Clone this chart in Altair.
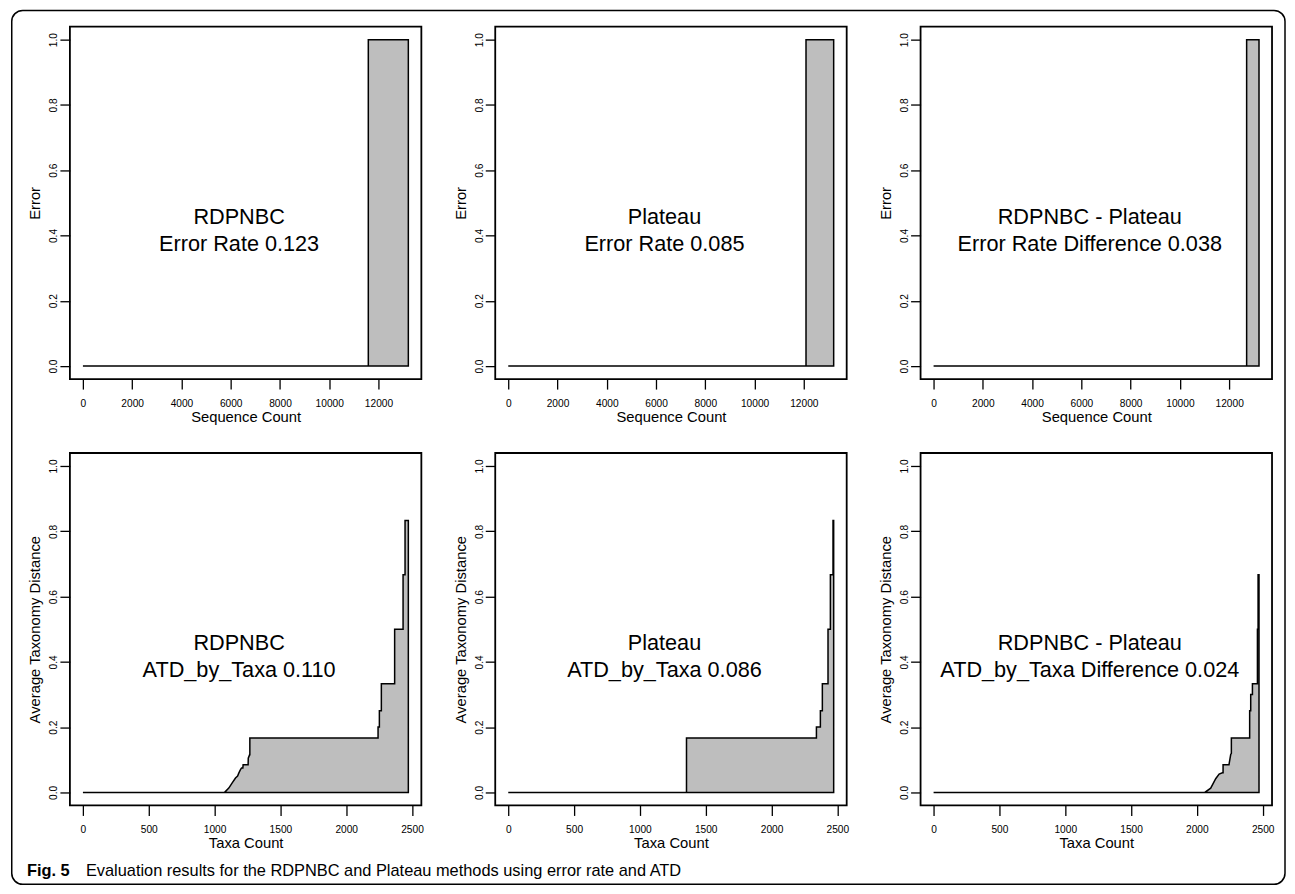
import altair as alt
import pandas as pd

# ---------------- data ----------------
N_SEQ = 13211      # total sequences
N_TAXA = 2472      # total taxa

# Top row: error by sequence (polygon vertices, x in sequence count)
top_rdp_x = [0, 11586, 11586, 13211, 13211]
top_rdp_y = [0, 0, 1, 1, 0]
top_pla_x = [0, 12088, 12088, 13211, 13211]
top_pla_y = [0, 0, 1, 1, 0]
top_dif_x = [0, 12709, 12709, 13211, 13211]
top_dif_y = [0, 0, 1, 1, 0]

# Bottom row: sorted average taxonomy distance by taxa
bot_rdp_x = [0, 1076, 1108, 1134, 1159, 1175, 1184, 1197, 1205, 1215, 1217, 1255, 1256, 1266,
             1268, 1268, 2242, 2242, 2252, 2252, 2267, 2267, 2368, 2368, 2432, 2432, 2447, 2447,
             2472, 2472]
bot_rdp_y = [0, 0, 0.013, 0.029, 0.044, 0.05, 0.059, 0.07, 0.075, 0.075, 0.085, 0.085, 0.105, 0.115,
             0.115, 0.167, 0.167, 0.2, 0.2, 0.25, 0.25, 0.333, 0.333, 0.5, 0.5, 0.667, 0.667, 0.833,
             0.833, 0]
bot_pla_x = [0, 1354, 1354, 2341, 2341, 2371, 2371, 2386, 2386, 2429, 2429, 2447, 2447, 2467, 2467,
             2472, 2472]
bot_pla_y = [0, 0, 0.167, 0.167, 0.2, 0.2, 0.25, 0.25, 0.333, 0.333, 0.5, 0.5, 0.667, 0.667, 0.833,
             0.833, 0]
bot_dif_x = [0, 2060, 2105, 2143, 2169, 2194, 2199, 2199, 2244, 2257, 2262, 2262, 2401, 2401, 2409,
             2409, 2422, 2422, 2460, 2460, 2465, 2465, 2472, 2472]
bot_dif_y = [0, 0, 0.013, 0.042, 0.056, 0.06, 0.06, 0.085, 0.085, 0.116, 0.12, 0.167, 0.167, 0.25,
             0.25, 0.3, 0.3, 0.333, 0.333, 0.5, 0.5, 0.667, 0.667, 0]

labels_top = ["RDPNBC\nError Rate 0.123",
              "Plateau\nError Rate 0.085",
              "RDPNBC - Plateau\nError Rate Difference 0.038"]
labels_bot = ["RDPNBC\nATD_by_Taxa 0.110",
              "Plateau\nATD_by_Taxa 0.086",
              "RDPNBC - Plateau\nATD_by_Taxa Difference 0.024"]

x_ticks_top = [0, 2000, 4000, 6000, 8000, 10000, 12000]
x_ticks_bot = [0, 500, 1000, 1500, 2000, 2500]
y_ticks = [0.0, 0.2, 0.4, 0.6, 0.8, 1.0]

caption_bold = "Fig. 5"
caption_text = "Evaluation results for the RDPNBC and Plateau methods using error rate and ATD"

# ---------------- layout ----------------
W, H = 352, 353
FONT = "Liberation Sans, Arial, Helvetica, sans-serif"


def make_panel(xs, ys, n, xticks, xtitle, ytitle, label, decorate=False):
    area_df = pd.DataFrame({"x": xs, "y": ys})
    line_df = pd.DataFrame({"x": xs + [0], "y": ys + [0], "i": list(range(len(xs) + 1))})
    xscale = alt.Scale(domain=[-0.04 * n, 1.04 * n], nice=False, zero=False)
    yscale = alt.Scale(domain=[-0.04, 1.04], nice=False, zero=False)
    xaxis = alt.Axis(values=xticks, format="d", title=xtitle, domain=False, grid=False,
                     tickSize=10, tickWidth=1.3, tickColor="black", labelPadding=9,
                     titlePadding=1, labelFlush=False, labelOverlap=False)
    yaxis = alt.Axis(values=y_ticks, format=".1f", title=ytitle, domain=False, grid=False,
                     tickSize=10, tickWidth=1.3, tickColor="black", labelAngle=270,
                     labelAlign="center", labelBaseline="alphabetic", labelPadding=3,
                     titlePadding=6, labelFlush=False, labelOverlap=False)
    area = alt.Chart(area_df).mark_area(color="#BEBEBE", opacity=1, interpolate="linear").encode(
        x=alt.X("x:Q", scale=xscale, axis=xaxis),
        y=alt.Y("y:Q", scale=yscale, axis=yaxis, stack=False),
    )
    line = alt.Chart(line_df).mark_line(color="black", strokeWidth=1.5, interpolate="linear").encode(
        x="x:Q", y="y:Q", order="i:Q"
    )
    txt_df = pd.DataFrame({"x": [0.48 * n], "y": [0.457], "t": [label]})
    text = alt.Chart(txt_df).mark_text(fontSize=21.7, lineHeight=27, lineBreak="\n",
                                       align="center", baseline="middle", color="black",
                                       font=FONT).encode(x="x:Q", y="y:Q", text="t:N")
    layers = [area, line, text]
    if decorate:
        one = pd.DataFrame({"a": [0]})
        border = alt.Chart(one).mark_rect(fillOpacity=0, stroke="black", strokeWidth=1.5,
                                          cornerRadius=11).encode(
            x=alt.value(-58.25), x2=alt.value(1217), y=alt.value(-16.25), y2=alt.value(859))
        cap1 = alt.Chart(one).mark_text(text=caption_bold, fontSize=16.4, fontWeight="bold",
                                        align="left", baseline="alphabetic", color="black",
                                        font=FONT).encode(
            x=alt.value(-43), y=alt.value(851))
        cap2 = alt.Chart(one).mark_text(text=caption_text, fontSize=16.4,
                                        align="left", baseline="alphabetic", color="black",
                                        font=FONT).encode(
            x=alt.value(16), y=alt.value(851))
        layers += [border, cap1, cap2]
    return alt.layer(*layers).properties(width=W, height=H)


panels = [
    make_panel(top_rdp_x, top_rdp_y, N_SEQ, x_ticks_top, "Sequence Count", "Error", labels_top[0], True),
    make_panel(top_pla_x, top_pla_y, N_SEQ, x_ticks_top, "Sequence Count", "Error", labels_top[1]),
    make_panel(top_dif_x, top_dif_y, N_SEQ, x_ticks_top, "Sequence Count", "Error", labels_top[2]),
    make_panel(bot_rdp_x, bot_rdp_y, N_TAXA, x_ticks_bot, "Taxa Count", "Average Taxonomy Distance", labels_bot[0]),
    make_panel(bot_pla_x, bot_pla_y, N_TAXA, x_ticks_bot, "Taxa Count", "Average Taxonomy Distance", labels_bot[1]),
    make_panel(bot_dif_x, bot_dif_y, N_TAXA, x_ticks_bot, "Taxa Count", "Average Taxonomy Distance", labels_bot[2]),
]

chart = alt.concat(*panels, columns=3, spacing=74, bounds="flush").properties(
    padding={"left": 2, "top": 0, "right": 0, "bottom": 0}
).configure(
    font=FONT, background="white"
).configure_view(
    stroke="black", strokeWidth=1.8
).configure_axis(
    labelFont=FONT, titleFont=FONT, labelFontSize=10.2, titleFontSize=14.8,
    labelColor="black", titleColor="black", titleFontWeight="normal"
)

chart.save("out.html", embed_options={"renderer": "svg", "actions": False})
